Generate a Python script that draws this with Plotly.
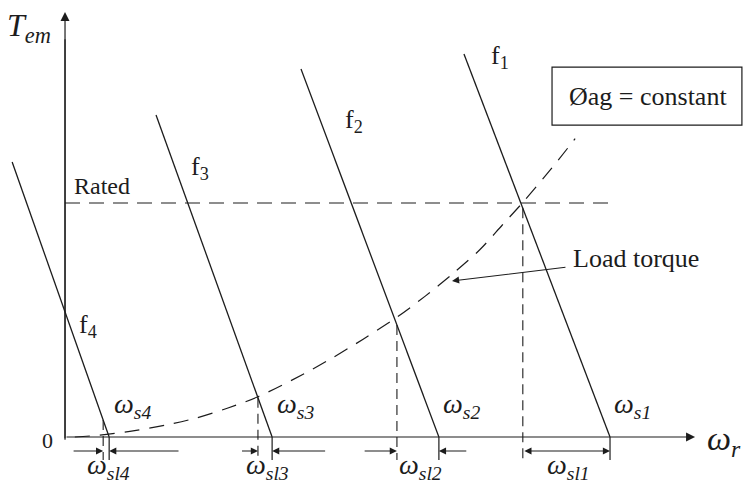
import plotly.graph_objects as go

# Constant air-gap flux (V/f) operation: torque-speed lines for four supply frequencies.
# Speeds are per unit of the f1 synchronous speed, torques per unit of rated torque.
freq_names = ["1", "2", "3", "4"]
sync_speed = [1.0, 0.686, 0.380, 0.081]        # ω_s1 .. ω_s4 (torque = 0)
top_speed = [0.732, 0.433, 0.167, -0.097]      # upper end of each characteristic
top_torque = [1.637, 1.573, 1.376, 1.175]
op_speed = [0.840, 0.609, 0.354, 0.070]        # rotor speed where the load curve meets each line

rated_torque = 1.0
rated_end_speed = 1.009

# Load torque curve read along its length
load_speed = [0.018, 0.064, 0.119, 0.183, 0.239, 0.299, 0.354, 0.437, 0.492,
              0.547, 0.609, 0.661, 0.710, 0.761, 0.802, 0.839, 0.890, 0.936]
load_torque = [0.0, 0.008, 0.024, 0.050, 0.080, 0.124, 0.172, 0.268, 0.340,
               0.418, 0.512, 0.602, 0.695, 0.800, 0.905, 1.0, 1.140, 1.275]

INK = "#1c1c1c"
SERIF = "Liberation Serif"
X_RANGE = [-0.1193, 1.2495]
Y_RANGE = [-0.2051, 1.8675]
BELOW = -0.098       # lower end of the speed markers under the axis
DIM_Y = -0.060       # height of the slip dimension arrows
# lengths of the inward-pointing dimension arrows (left, right) for f2..f4
DIM_TAILS = [None, (0.062, 0.053), (0.032, 0.100), (0.057, 0.130)]

fig = go.Figure()

# torque-speed characteristics
for ts, tt, ws in zip(top_speed, top_torque, sync_speed):
    fig.add_trace(go.Scatter(x=[ts, ws], y=[tt, 0], mode="lines",
                             line=dict(color=INK, width=1.3), hoverinfo="skip"))

# rated torque level
fig.add_trace(go.Scatter(x=[0, rated_end_speed], y=[rated_torque, rated_torque], mode="lines",
                         line=dict(color=INK, width=1.2, dash="15px,9px"), hoverinfo="skip"))

# load torque
fig.add_trace(go.Scatter(x=load_speed, y=load_torque, mode="lines",
                         line=dict(color=INK, width=1.2, dash="15px,10px",
                                   shape="spline", smoothing=0.8),
                         hoverinfo="skip"))

shapes = []
annotations = []


def op_torque(i):
    ws, ts, tt = sync_speed[i], top_speed[i], top_torque[i]
    return tt * (ws - op_speed[i]) / (ws - ts)


def arrow(x, y, ax, ay, size=1.3, width=1.1, **kw):
    return dict(x=x, y=y, ax=ax, ay=ay, xref="x", yref="y", axref="x", ayref="y",
                text="", showarrow=True, arrowhead=2, arrowsize=size, arrowwidth=width,
                arrowcolor=INK, **kw)


for i in range(4):
    ws, wo = sync_speed[i], op_speed[i]
    # synchronous-speed marker
    shapes.append(dict(type="line", x0=ws, x1=ws, y0=0, y1=BELOW,
                       line=dict(color=INK, width=1.2)))
    # operating-speed marker
    shapes.append(dict(type="line", x0=wo, x1=wo, y0=op_torque(i), y1=BELOW,
                       line=dict(color=INK, width=1.1, dash="10px,6px")))
    if i == 0:
        annotations.append(arrow(ws, DIM_Y, wo, DIM_Y, arrowside="end+start",
                                 standoff=0, startstandoff=0))
    else:
        left, right = DIM_TAILS[i]
        annotations.append(arrow(wo, DIM_Y, wo - left, DIM_Y))
        annotations.append(arrow(ws, DIM_Y, ws + right, DIM_Y))
    # ω_s and ω_sl labels
    annotations.append(dict(x=ws + 0.042, y=0.135, xref="x", yref="y", showarrow=False,
                            text=f"<i>ω</i><sub><i>s{freq_names[i]}</i></sub>",
                            font=dict(family=SERIF, size=28, color=INK)))
    annotations.append(dict(x=(ws + wo) / 2 + 0.004, y=-0.128, xref="x", yref="y",
                            showarrow=False,
                            text=f"<i>ω</i><sub><i>sl{freq_names[i]}</i></sub>",
                            font=dict(family=SERIF, size=28, color=INK)))

# frequency labels beside each line
f_label_pos = [(0.798, 1.625), (0.530, 1.350), (0.248, 1.150), (0.042, 0.475)]
for name, (lx, ly) in zip(freq_names, f_label_pos):
    annotations.append(dict(x=lx, y=ly, xref="x", yref="y", showarrow=False,
                            text=f"f<sub>{name}</sub>",
                            font=dict(family=SERIF, size=26, color=INK)))

# axes with arrowheads
annotations.append(arrow(1.156, 0, 0, 0, size=1.5, width=1.2))
annotations.append(arrow(0, 1.816, 0, -0.012, size=1.5, width=1.2))

labels = [
    dict(x=-0.066, y=1.748, text="<i>T</i><sub><i>em</i></sub>", size=32),
    dict(x=-0.033, y=-0.013, text="0", size=22),
    dict(x=1.210, y=-0.017, text="<i>ω</i><sub><i>r</i></sub>", size=34),
    dict(x=0.068, y=1.073, text="Rated", size=24),
    dict(x=1.048, y=0.761, text="Load torque", size=26),
    dict(x=1.070, y=1.457, text="Øag = constant", size=26),
]
for lab in labels:
    annotations.append(dict(x=lab["x"], y=lab["y"], text=lab["text"], xref="x", yref="y",
                            showarrow=False,
                            font=dict(family=SERIF, size=lab["size"], color=INK)))

# pointer to the load torque curve
annotations.append(arrow(0.710, 0.667, 0.921, 0.726))

# y axis line and legend box
shapes.append(dict(type="line", x0=0, x1=0, y0=-0.012, y1=1.7, line=dict(color=INK, width=1.2)))
shapes.append(dict(type="rect", x0=0.8936, x1=1.242, y0=1.333, y1=1.581,
                   line=dict(color=INK, width=1.2)))

fig.update_layout(
    width=746, height=485, margin=dict(l=0, r=0, t=0, b=0),
    paper_bgcolor="white", plot_bgcolor="white", showlegend=False,
    xaxis=dict(range=X_RANGE, visible=False, fixedrange=True),
    yaxis=dict(range=Y_RANGE, visible=False, fixedrange=True),
    shapes=shapes, annotations=annotations,
)

fig.write_html("out.html")
